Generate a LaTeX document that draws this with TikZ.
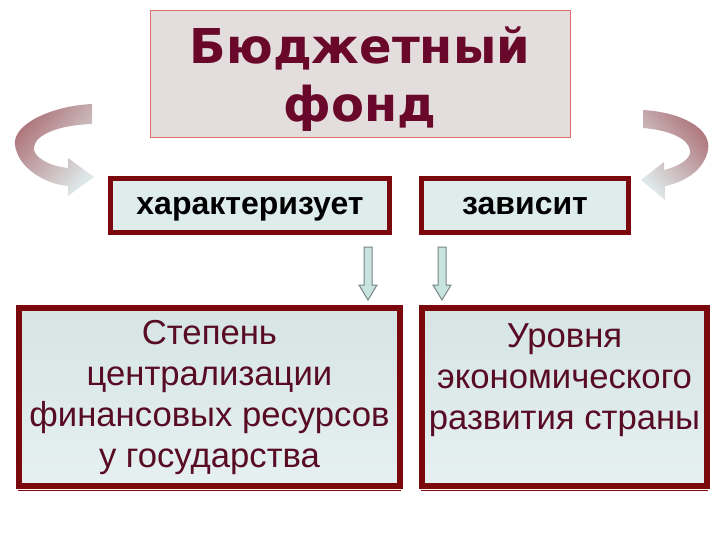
\documentclass[tikz,border=0pt]{standalone}
\usepackage{fontspec}
\setmainfont{Liberation Sans}
\newfontfamily\titlefont{DejaVu Sans}
\usetikzlibrary{calc}

\definecolor{boxred}{RGB}{122,8,12}
\definecolor{titlered}{RGB}{105,8,42}
\definecolor{textred}{RGB}{88,12,36}
\definecolor{fondfill}{RGB}{228,221,221}
\definecolor{fondline}{RGB}{222,110,110}
\definecolor{verbfill}{RGB}{222,236,236}
\definecolor{facttop}{RGB}{214,228,228}
\definecolor{factmid}{RGB}{240,246,246}
\definecolor{factbot}{RGB}{230,240,240}
\definecolor{arrfill}{RGB}{200,228,222}
\definecolor{arrline}{RGB}{120,132,132}
\definecolor{ribred}{RGB}{172,112,118}
\definecolor{ribpale}{RGB}{222,232,232}

\tikzset{every picture/.style={line width=0.75pt}}
\tikzset{
  fondbox/.style={draw=fondline, fill=fondfill, line width=0.75pt, minimum width=315pt, minimum height=95.25pt},
  fondtext/.style={align=center, text=titlered, font=\titlefont\fontsize{36}{43.5}\selectfont\bfseries},
  verbbox/.style={draw=boxred, fill=verbfill, line width=3.75pt, minimum height=40.5pt, text depth=0pt, font=\fontsize{24}{28}\selectfont\bfseries},
  factbox/.style={draw=boxred, line width=4.5pt, top color=facttop, middle color=factmid, bottom color=factbot, minimum height=133.5pt, align=center, text=textred, font=\fontsize{26}{30.75}\selectfont},
  factline/.style={draw=boxred, line width=1.2pt},
  blockarr/.style={draw=arrline, fill=arrfill, line width=0.75pt},
  ribbon/.style={draw=none, top color=ribred, bottom color=ribpale}
}

\begin{document}
\begin{tikzpicture}[x=0.75pt,y=0.75pt,yscale=-1,xscale=1]
\useasboundingbox (0,0) rectangle (720,540);

% Boxes
\node [fondbox] (fond) at (360,73.5) {};
\node [fondtext] (fondlbl) at (360,79) {Бюджетный\\фонд};
\node [verbbox, minimum width=209.25pt] (char) at (250,205.5) {характеризует};
\node [verbbox, minimum width=155.25pt] (zav) at (525,205.5) {зависит};
\node [factbox, minimum width=285.75pt] (stepen) at (209.5,397) {Степень\\централизации\\финансовых ресурсов\\у государства};
\node [factbox, minimum width=213.75pt] (urov) at (564.5,397) {Уровня\\экономического\\развития страны\\\mbox{}};

% second line under the lower boxes
\draw [factline] ($(stepen.south west)+(2,1.5)$) -- ($(stepen.south east)+(-2,1.5)$);
\draw [factline] ($(urov.south west)+(2,1.5)$) -- ($(urov.south east)+(-2,1.5)$);

% Down arrows
\coordinate (a1s) at (368,247);
\coordinate (a1e) at (368,300);
\coordinate (a2s) at (442,247);
\coordinate (a2e) at (442,300);
\draw [blockarr] (a1e) -- ++(9,-15) -- ++(-5,0) -- ($(a1s)+(4,0)$) -- ($(a1s)+(-4,0)$) -- ($(a1e)+(-4,-15)$) -- ++(-5,0) -- cycle;
\draw [blockarr] (a2e) -- ++(9,-15) -- ++(-5,0) -- ($(a2s)+(4,0)$) -- ($(a2s)+(-4,0)$) -- ($(a2e)+(-4,-15)$) -- ++(-5,0) -- cycle;

% Curved arrows
\path [ribbon, shading angle=50] (92,104) .. controls (50,106) and (12,125) .. (15,145) .. controls (18,168) and (45,184) .. (68,186) -- (68,196) -- (94,177) -- (68,158) -- (68,168) .. controls (48,166) and (32,156) .. (34,147) .. controls (36,134) and (60,125) .. (92,124) -- cycle;
\path [ribbon, shading angle=-50] (643,110) .. controls (680,112) and (712,128) .. (708,150) .. controls (704,170) and (685,182) .. (665,186) -- (665,200) -- (641,180) -- (664,162) -- (664,170) .. controls (680,166) and (692,158) .. (690,150) .. controls (688,138) and (668,130) .. (643,128) -- cycle;

\end{tikzpicture}
\end{document}
